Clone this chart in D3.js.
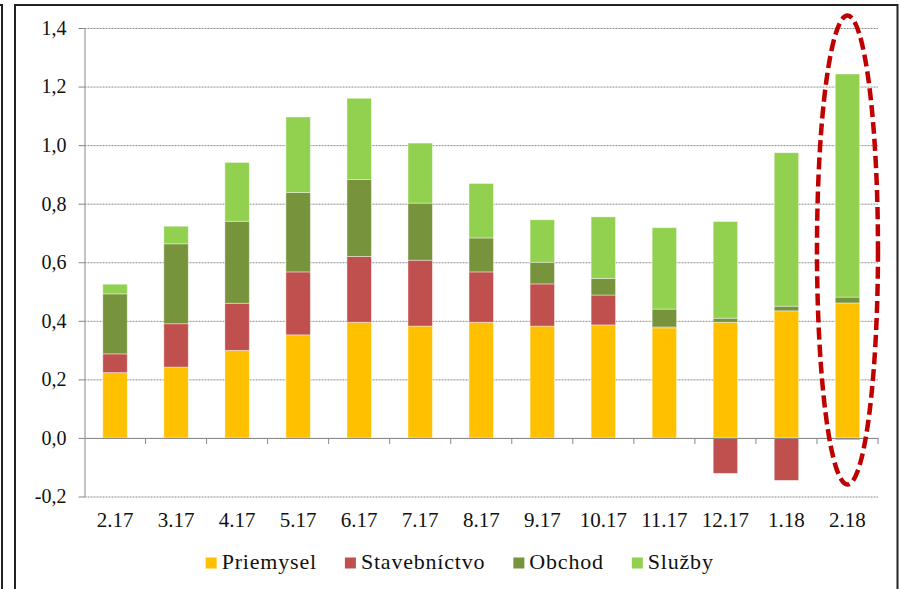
<!doctype html>
<html lang="sk">
  <head>
    <meta charset="utf-8">
    <title>Príspevky sektorov</title>
    <style>
      body {
        margin: 0;
        background: #fff;
      }

      svg text {
        font-family: "Liberation Serif", "Times New Roman", serif;
        fill: #111;
      }

      .grid line {
        stroke: #8c8c8c;
        stroke-dasharray: 2 1;
      }

      .axis path,
      .axis line {
        stroke: #868686;
      }
    </style>
  </head>
  <body>
    <div id="chart"></div>

    <script src="https://d3js.org/d3.v7.min.js"></script>
    <script>
      const categories = ['2.17', '3.17', '4.17', '5.17', '6.17', '7.17', '8.17', '9.17', '10.17', '11.17', '12.17', '1.18', '2.18']
      const priemysel = [0.223, 0.242, 0.299, 0.352, 0.395, 0.382, 0.395, 0.382, 0.386, 0.376, 0.395, 0.434, 0.461]
      const stavebnictvo = [0.064, 0.148, 0.161, 0.215, 0.225, 0.225, 0.172, 0.144, 0.102, 0.003, -0.121, -0.145, -0.006]
      const obchod = [0.205, 0.273, 0.280, 0.271, 0.263, 0.195, 0.116, 0.074, 0.057, 0.061, 0.014, 0.016, 0.020]
      const sluzby = [0.033, 0.060, 0.201, 0.258, 0.277, 0.205, 0.186, 0.145, 0.210, 0.278, 0.330, 0.524, 0.762]
      const seriesNames = ['Priemysel', 'Stavebníctvo', 'Obchod', 'Služby']
      const yTicks = [-0.2, 0, 0.2, 0.4, 0.6, 0.8, 1.0, 1.2, 1.4]

      const colors = ['#ffc000', '#c0504d', '#77933c', '#92d050']
      const width = 901
      const height = 589
      const plot = { left: 84.5, right: 878, top: 28, bottom: 496.5 }

      const rows = categories.map((c, i) => ({
        cat: c,
        Priemysel: priemysel[i],
        'Stavebníctvo': stavebnictvo[i],
        Obchod: obchod[i],
        'Služby': sluzby[i]
      }))

      const svg = d3.select('#chart')
        .append('svg')
          .attr('width', width)
          .attr('height', height)

      // frames
      svg.append('path')
        .attr('d', `M15,${height + 2} V5 H897.5 V${height + 2}`)
        .attr('fill', 'none')
        .attr('stroke', '#222')
        .attr('stroke-width', 2)
      svg.append('path')
        .attr('d', `M-2,5 H2 V${height + 2}`)
        .attr('fill', 'none')
        .attr('stroke', '#222')
        .attr('stroke-width', 2)

      const x = d3.scaleBand()
        .domain(categories)
        .range([plot.left, plot.right])
        .paddingInner(0.6)
        .paddingOuter(0.3)

      const y = d3.scaleLinear()
        .domain([-0.2, 1.4])
        .range([plot.bottom, plot.top])

      const fmt = d => d.toFixed(1).replace('.', ',')

      // gridlines
      svg.append('g')
        .attr('class', 'grid')
        .attr('transform', `translate(${plot.left},0)`)
        .call(d3.axisLeft(y).tickValues(yTicks).tickSize(-(plot.right - plot.left)).tickFormat(''))
        .call(g => g.select('.domain').remove())

      const stack = d3.stack()
        .keys(seriesNames)
        .offset(d3.stackOffsetDiverging)
      const series = stack(rows)

      svg.append('g')
        .selectAll('g')
        .data(series)
        .join('g')
          .attr('fill', (d, i) => colors[i])
        .selectAll('rect')
        .data(d => d)
        .join('rect')
          .attr('x', d => x(d.data.cat))
          .attr('width', x.bandwidth())
          .attr('y', d => y(Math.max(d[0], d[1])))
          .attr('height', d => Math.abs(y(d[0]) - y(d[1])))
          .attr('stroke', '#fff')
          .attr('stroke-opacity', 0.5)
          .attr('stroke-width', 0.8)

      // y axis
      const yAxis = svg.append('g')
        .attr('class', 'axis')
        .attr('transform', `translate(${plot.left},0)`)
        .call(d3.axisLeft(y).tickValues(yTicks).tickSize(6).tickSizeOuter(0).tickPadding(12).tickFormat(fmt))
      yAxis.selectAll('text')
        .style('font-size', '20px')

      // x axis
      const xAxis = svg.append('g')
        .attr('class', 'axis')
        .attr('transform', `translate(0,${y(0)})`)
        .call(d3.axisBottom(x).tickSize(0).tickSizeOuter(0).tickPadding(74))
      xAxis.selectAll('text')
        .style('font-size', '21px')

      // category boundary ticks
      xAxis.selectAll('.bound')
        .data(d3.range(1, categories.length + 1))
        .join('line')
          .attr('class', 'bound')
          .attr('x1', i => plot.left + i * x.step())
          .attr('x2', i => plot.left + i * x.step())
          .attr('y1', 0)
          .attr('y2', 6)

      // legend
      const legend = svg.append('g')
      let lx = 205.7
      seriesNames.forEach((name, i) => {
        legend.append('rect')
          .attr('x', lx)
          .attr('y', 557.5)
          .attr('width', 11)
          .attr('height', 11)
          .attr('fill', colors[i])
        const t = legend.append('text')
          .attr('x', lx + 16)
          .attr('y', 569)
          .style('font-size', '22px')
          .style('letter-spacing', '0.8px')
          .text(name)
        lx += 16 + t.node().getComputedTextLength() + 28
      })

      // highlight ellipse around last month
      const last = categories[categories.length - 1]
      svg.append('ellipse')
        .attr('cx', x(last) + x.bandwidth() / 2)
        .attr('cy', 250)
        .attr('rx', 30.5)
        .attr('ry', 234.5)
        .attr('fill', 'none')
        .attr('stroke', '#c00000')
        .attr('stroke-width', 4.5)
        .attr('stroke-dasharray', '12 5')
    </script>
  </body>
</html>
